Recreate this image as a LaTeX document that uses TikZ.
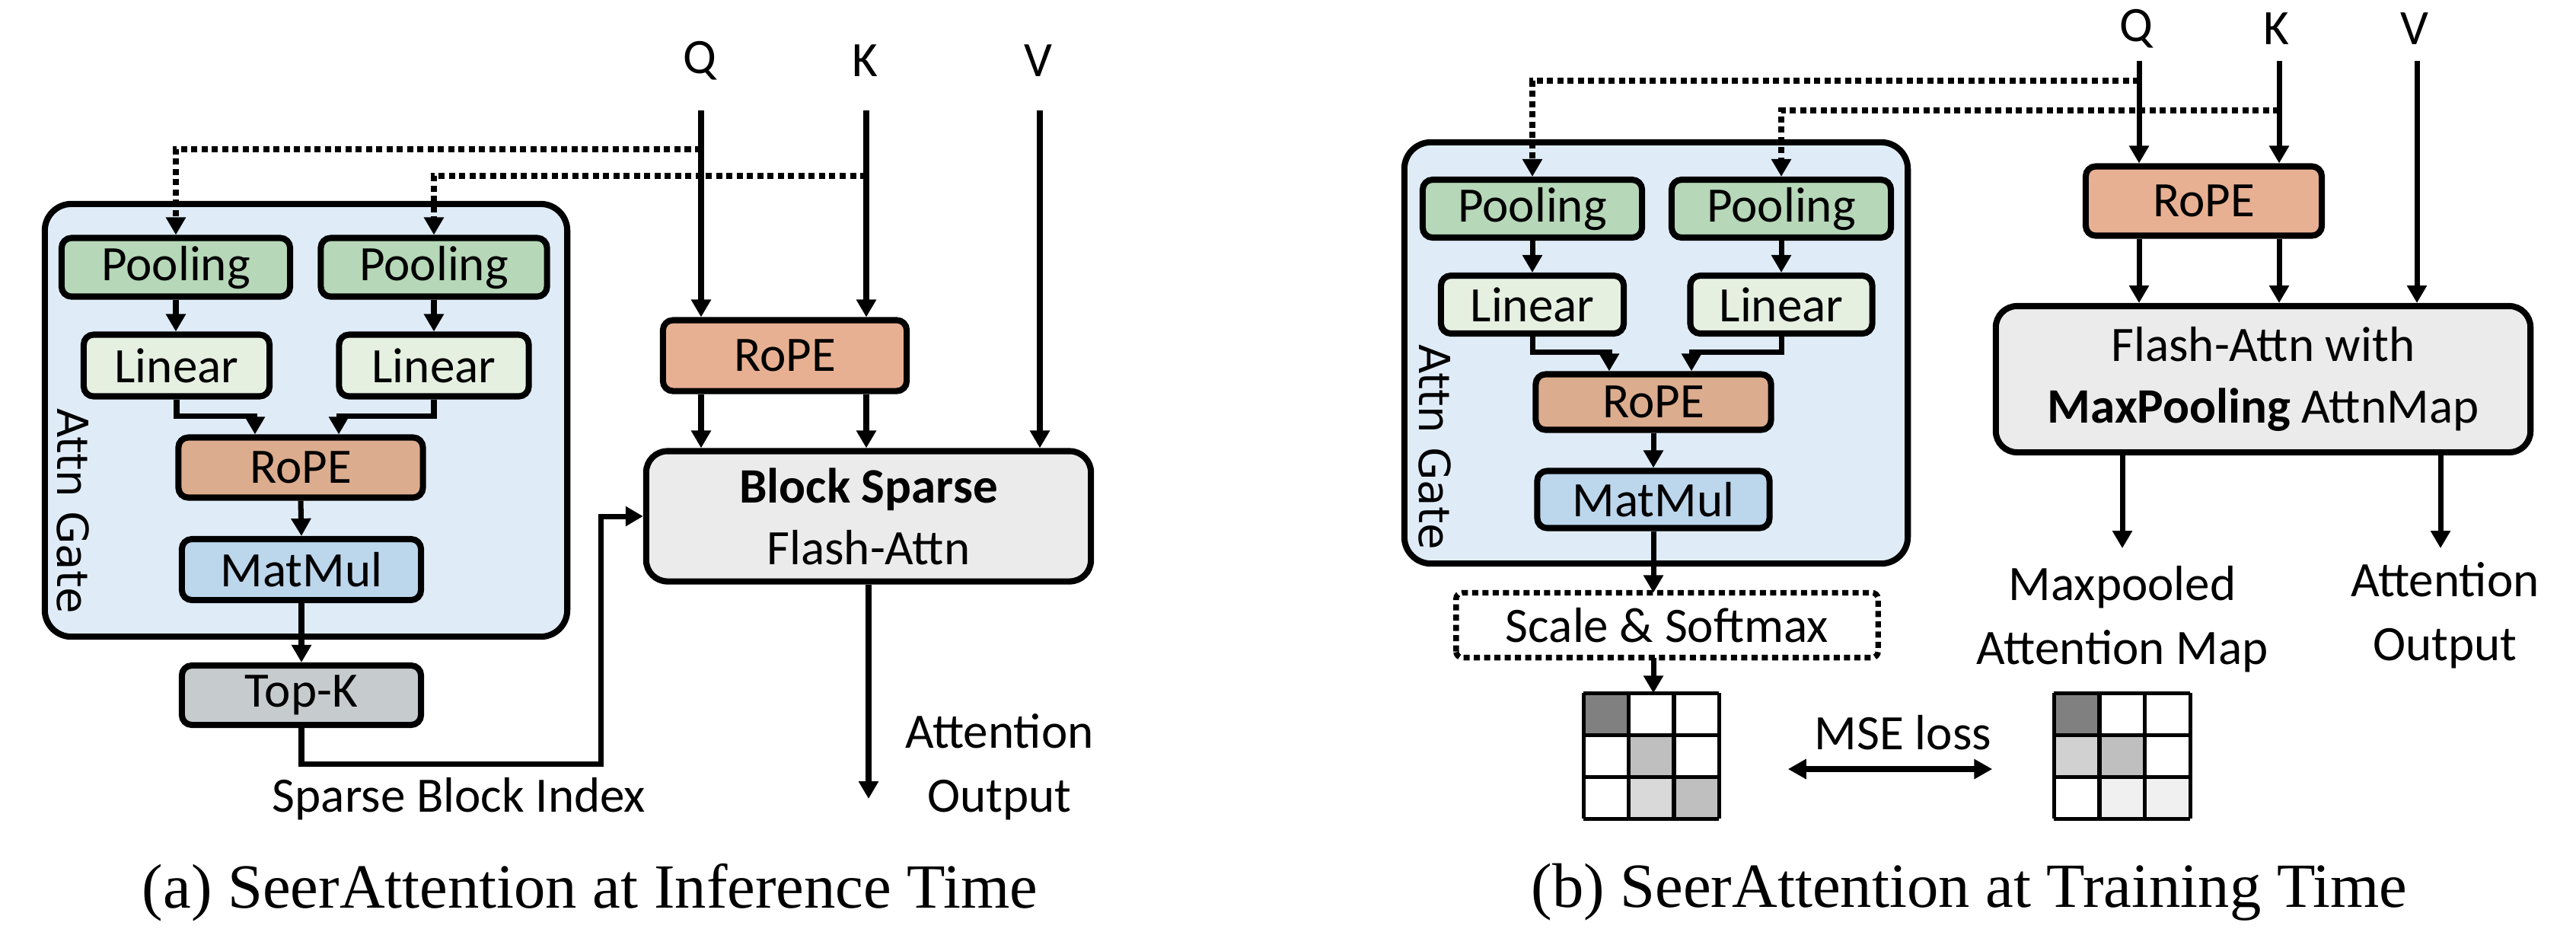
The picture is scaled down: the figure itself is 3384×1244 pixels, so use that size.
\documentclass[tikz,border=0pt]{standalone}
\usepackage{fontspec}
\setmainfont{Carlito}
\newfontfamily\capfont{Liberation Serif}
\newfontfamily\gatefont{DejaVu Sans}
\usetikzlibrary{arrows.meta,calc}
\definecolor{gatebg}{HTML}{DFECF7}
\definecolor{poolc}{HTML}{B6D7B8}
\definecolor{linc}{HTML}{E5F0E1}
\definecolor{ropec}{HTML}{E8B092}
\definecolor{ropei}{HTML}{DCAC8F}
\definecolor{matc}{HTML}{BCD6EC}
\definecolor{topkc}{HTML}{C6CBCE}
\definecolor{flashc}{HTML}{EBEBEB}
\tikzset{
 bx/.style={draw, line width=2.3pt, rounded corners=0.13cm, inner sep=0pt, align=center, font=\fontsize{18.5}{23}\selectfont},
 arr/.style={line width=2pt, -{Triangle[length=0.23cm,width=0.25cm]}},
 dotl/.style={line width=2.1pt, dash pattern=on 0.08cm off 0.055cm, -{Triangle[length=0.23cm,width=0.25cm]}},
 dblarr/.style={line width=2.2pt, {Triangle[length=0.24cm,width=0.25cm]}-{Triangle[length=0.24cm,width=0.25cm]}},
 lbl/.style={font=\fontsize{18.5}{24}\selectfont, inner sep=0pt, align=center},
 gatebox/.style={draw, line width=2.3pt, rounded corners=0.35cm, fill=gatebg, inner sep=0pt},
 gatelbl/.style={font=\gatefont\fontsize{16}{19}\selectfont, inner sep=0pt, rotate=-90},
 caplbl/.style={font=\capfont\fontsize{23.5}{28}\selectfont, inner sep=0pt},
 gridcell/.style={line width=1.5pt},
}
\begin{document}
\begin{tikzpicture}[x=0.01cm,y=-0.01cm]
\useasboundingbox (0,0) rectangle (3384,1244);
% ================= (a) =================
\node[gatebox, minimum width=6.86cm, minimum height=5.68cm] (gate1) at (402,552) {};
\node[gatelbl] (gl1) at (96,671) {Attn Gate};
\node[bx, fill=poolc, minimum width=3.0cm, minimum height=0.77cm] (pool1) at (231,351) {Pooling};
\node[bx, fill=poolc, minimum width=2.97cm, minimum height=0.77cm] (pool2) at (570,351) {Pooling};
\node[bx, fill=linc, minimum width=2.44cm, minimum height=0.81cm] (lin1) at (232,480) {Linear};
\node[bx, fill=linc, minimum width=2.49cm, minimum height=0.81cm] (lin2) at (570,480) {Linear};
\node[bx, fill=ropei, minimum width=3.21cm, minimum height=0.79cm] (rope1) at (395,614) {RoPE};
\node[bx, fill=matc, minimum width=3.14cm, minimum height=0.80cm] (mat1) at (396,748) {MatMul};
\node[bx, fill=topkc, minimum width=3.14cm, minimum height=0.78cm] (topk) at (396,913) {Top-K};
\node[bx, fill=ropec, minimum width=3.2cm, minimum height=0.93cm] (rope2) at (1031,467) {RoPE};
\node[bx, fill=flashc, rounded corners=0.28cm, minimum width=5.84cm, minimum height=1.71cm] (block) at (1141,678) {\textbf{Block Sparse}\\Flash-Attn};
\node[lbl] (Q1) at (919,80) {Q};
\node[lbl] (K1) at (1136,80) {K};
\node[lbl] (V1) at (1364,80) {V};
\coordinate (q1t) at (921,145);
\coordinate (k1t) at (1138,145);
\coordinate (v1t) at (1366,145);
\draw[arr] (q1t) -- (q1t |- rope2.north);
\draw[arr] (k1t) -- (k1t |- rope2.north);
\draw[arr] (rope2.south -| q1t) -- (block.north -| q1t);
\draw[arr] (rope2.south -| k1t) -- (block.north -| k1t);
\draw[arr] (v1t) -- (v1t |- block.north);
\coordinate (qd1) at (921,196);
\coordinate (kd1) at (1138,231);
\draw[dotl] (qd1) -| (pool1.north);
\draw[dotl] (kd1) -| (pool2.north);
\draw[arr] (pool1.south) -- (pool1.south |- lin1.north);
\draw[arr] (pool2.south) -- (pool2.south |- lin2.north);
\draw[arr] (lin1.south) -- ++(0,22) -| ([xshift=-0.6cm]rope1.north);
\draw[arr] (lin2.south) -- ++(0,22) -| ([xshift=0.5cm]rope1.north);
\draw[arr] (rope1.south) -- (mat1.north);
\draw[arr] (mat1.south) -- (topk.north);
\draw[arr] (topk.south) -- ++(0,47) -| ([xshift=-0.55cm]block.west) -- (block.west);
\coordinate (o1) at (1141,1049);
\draw[arr] (block.south) -- (o1);
\node[lbl] (ao1) at (1313,1007) {Attention\\Output};
\node[lbl] (sbi) at (603,1049) {Sparse Block Index};
\node[caplbl] (capa) at (775,1172) {(a) SeerAttention at Inference Time};
% ================= (b) =================
\node[gatebox, minimum width=6.61cm, minimum height=5.53cm] (gate2) at (2175.5,463.5) {};
\node[gatelbl] (gl2) at (1885,587) {Attn Gate};
\node[bx, fill=poolc, minimum width=2.88cm, minimum height=0.76cm] (pool3) at (2013,274) {Pooling};
\node[bx, fill=poolc, minimum width=2.88cm, minimum height=0.76cm] (pool4) at (2340,274) {Pooling};
\node[bx, fill=linc, minimum width=2.40cm, minimum height=0.76cm] (lin3) at (2013,400) {Linear};
\node[bx, fill=linc, minimum width=2.39cm, minimum height=0.76cm] (lin4) at (2340,400) {Linear};
\node[bx, fill=ropei, minimum width=3.09cm, minimum height=0.73cm] (rope3) at (2172,528) {RoPE};
\node[bx, fill=matc, minimum width=3.05cm, minimum height=0.75cm] (mat2) at (2172,656) {MatMul};
\node[bx, fill=white, draw=none, minimum width=5.46cm, minimum height=0.77cm] (scale) at (2190,821) {Scale \& Softmax};
\draw[line width=2.1pt, dash pattern=on 0.08cm off 0.055cm, rounded corners=0.08cm] (scale.south west) rectangle (scale.north east);
\node[bx, fill=ropec, minimum width=3.10cm, minimum height=0.91cm] (rope4) at (2895,264) {RoPE};
\node[bx, fill=flashc, rounded corners=0.28cm, minimum width=7.02cm, minimum height=1.92cm] (flash) at (2973,498) {Flash-Attn with\\\textbf{MaxPooling} AttnMap};
\node[lbl] (Q2) at (2806,38) {Q};
\node[lbl] (K2) at (2990,38) {K};
\node[lbl] (V2) at (3172,38) {V};
\coordinate (q2t) at (2810,80);
\coordinate (k2t) at (2994,80);
\coordinate (v2t) at (3175,80);
\draw[arr] (q2t) -- (q2t |- rope4.north);
\draw[arr] (k2t) -- (k2t |- rope4.north);
\draw[arr] (rope4.south -| q2t) -- (flash.north -| q2t);
\draw[arr] (rope4.south -| k2t) -- (flash.north -| k2t);
\draw[arr] (v2t) -- (v2t |- flash.north);
\coordinate (qd2) at (2810,106);
\coordinate (kd2) at (2994,145);
\draw[dotl] (qd2) -| (pool3.north);
\draw[dotl] (kd2) -| (pool4.north);
\draw[arr] (pool3.south) -- (lin3.north);
\draw[arr] (pool4.south) -- (lin4.north);
\draw[arr] (lin3.south) -- ++(0,20) -| ([xshift=-0.58cm]rope3.north);
\draw[arr] (lin4.south) -- ++(0,20) -| ([xshift=0.5cm]rope3.north);
\draw[arr] (rope3.south) -- (mat2.north);
\draw[arr] (mat2.south) -- (mat2.south |- scale.north);
% grids
\node[inner sep=0pt, minimum width=1.78cm, minimum height=1.65cm] (grid1) at (2170,993.5) {};
\node[inner sep=0pt, minimum width=1.79cm, minimum height=1.65cm] (grid2) at (2788.5,993.5) {};
\draw[arr] (scale.south -| mat2) -- (grid1.north -| mat2);
\foreach \c/\r/\g in {0/0/50, 1/1/25, 1/2/15, 2/2/25}
  \fill[black!\g] ($(grid1.north west)+(\c*59.33,\r*55)$) rectangle ++(59.33,55);
\foreach \c/\r/\g in {0/0/50, 0/1/18, 1/1/25, 1/2/6, 2/2/6}
  \fill[black!\g] ($(grid2.north west)+(\c*59.67,\r*55)$) rectangle ++(59.67,55);
\foreach \i in {0,1,2,3} {
  \draw[gridcell] ($(grid1.north west)+(\i*59.33,0)$) -- ++(0,165);
  \draw[gridcell] ($(grid1.north west)+(0,\i*55)$) -- ++(178,0);
  \draw[gridcell] ($(grid2.north west)+(\i*59.67,0)$) -- ++(0,165);
  \draw[gridcell] ($(grid2.north west)+(0,\i*55)$) -- ++(179,0);
}
\draw[dblarr] ($(grid1.east)+(89,16.5)$) -- ($(grid2.west)+(-81,16.5)$);
\node[lbl] (mse) at (2500,962) {MSE loss};
\coordinate (o2) at (2788,720);
\coordinate (o3) at (3206,720);
\draw[arr] (flash.south -| o2) -- (o2);
\draw[arr] (flash.south -| o3) -- (o3);
\node[lbl] (mpl) at (2788,813) {Maxpooled\\Attention Map};
\node[lbl] (ao2) at (3212,808) {Attention\\Output};
\node[caplbl] (capb) at (2587,1172) {(b) SeerAttention at Training Time};
\end{tikzpicture}
\end{document}
